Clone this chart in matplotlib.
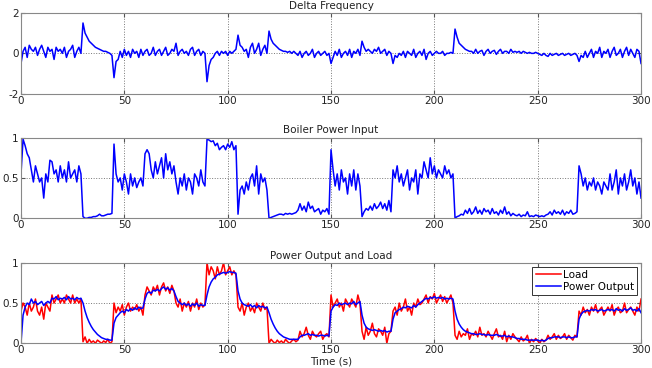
import numpy as np
import matplotlib
matplotlib.use("Agg")
import matplotlib.pyplot as plt

# time axis, one sample per second
t = np.arange(0, 301)

delta_freq = [
    -0.5, 0.1, 0.3, -0.2, 0.4, 0.2, 0.1, 0.3, -0.1, 0.2, 0.4, 0.1, -0.2, 0.3, 0.1,
    0.2, -0.3, 0.3, 0.1, 0.2, 0.0, 0.3, -0.2, 0.1, 0.2, 0.4, -0.2, 0.1, 0.3, 0.0,
    1.5, 1.0, 0.8, 0.6, 0.5, 0.4, 0.3, 0.25, 0.2, 0.15, 0.1, 0.1, 0.05, 0.0, -0.1,
    -1.2, -0.4, -0.3, 0.1, -0.2, 0.2, -0.1, 0.1, -0.2, 0.2, 0.0, 0.1, -0.2, 0.2, -0.1,
    0.1, 0.2, -0.1, 0.0, 0.3, -0.1, 0.1, 0.2, -0.1, 0.1, 0.3, -0.1, 0.0, 0.2, 0.1,
    0.5, -0.1, 0.1, 0.2, 0.0, 0.1, -0.1, 0.2, 0.3, -0.1, 0.1, 0.2, -0.1, 0.1, 0.0,
    -1.4, -0.6, -0.3, -0.2, 0.0, 0.1, -0.1, 0.1, 0.0, 0.1, -0.1, 0.1, 0.0, 0.1, 0.2,
    0.9, 0.4, 0.3, 0.1, 0.2, -0.2, 0.3, 0.5, 0.0, 0.2, 0.5, -0.1, 0.2, 0.4, 0.0,
    1.1, 0.7, 0.5, 0.4, 0.3, 0.2, 0.15, 0.1, 0.1, 0.05, 0.1, 0.0, 0.1, 0.0, -0.1,
    0.1, -0.2, 0.0, 0.1, -0.1, 0.0, 0.2, -0.2, 0.0, 0.1, -0.1, 0.0, 0.1, -0.1, 0.0,
    -0.5, -0.2, 0.1, -0.1, 0.2, -0.2, 0.0, 0.1, -0.1, 0.2, -0.2, 0.1, 0.0, 0.2, -0.1,
    0.6, 0.3, 0.1, 0.2, 0.1, 0.0, 0.2, 0.1, 0.3, 0.0, 0.1, 0.2, -0.1, 0.1, 0.0,
    -0.5, -0.1, -0.2, 0.0, -0.1, 0.1, -0.2, 0.1, 0.0, -0.1, 0.2, -0.2, 0.0, 0.1, -0.1,
    0.2, -0.3, 0.0, 0.1, -0.1, 0.0, 0.1, 0.0, 0.0, 0.1, -0.1, 0.0, 0.0, 0.05, 0.0,
    1.2, 0.8, 0.5, 0.4, 0.3, 0.2, 0.15, 0.1, 0.1, 0.0, 0.2, 0.0, 0.1, 0.15, -0.1,
    0.1, 0.2, 0.0, 0.1, 0.15, -0.05, 0.1, 0.2, 0.0, 0.1, 0.1, 0.0, 0.2, 0.05, 0.1,
    0.05, 0.1, 0.0, 0.1, 0.05, 0.0, 0.05, 0.0, 0.0, 0.05, 0.0, -0.05, -0.1, 0.0, -0.1,
    -0.15, 0.0, -0.1, -0.05, 0.0, -0.1, -0.05, 0.0, -0.1, -0.05, 0.0, -0.1, -0.05, 0.0, -0.1,
    -0.4, -0.1, -0.2, 0.1, -0.2, 0.0, 0.2, -0.2, 0.1, 0.0, 0.3, -0.2, 0.1, 0.0, 0.2,
    -0.2, 0.1, 0.3, -0.1, 0.0, 0.2, -0.2, 0.1, 0.3, -0.1, 0.2, 0.0, -0.2, 0.2, 0.1,
    -0.5,
]

boiler_input = [
    0.55, 0.98, 0.9, 0.8, 0.75, 0.6, 0.45, 0.65, 0.55, 0.45, 0.5, 0.25, 0.55, 0.45, 0.72,
    0.7, 0.55, 0.6, 0.45, 0.65, 0.5, 0.6, 0.45, 0.7, 0.5, 0.55, 0.6, 0.45, 0.65, 0.55,
    0.02, 0.0, 0.0, 0.01, 0.01, 0.02, 0.02, 0.03, 0.05, 0.03, 0.03, 0.04, 0.05, 0.05, 0.06,
    0.92, 0.55, 0.45, 0.5, 0.35, 0.55, 0.45, 0.3, 0.55, 0.4, 0.5, 0.38, 0.45, 0.5, 0.4,
    0.8, 0.85, 0.8, 0.6, 0.5, 0.7, 0.55, 0.65, 0.75, 0.5, 0.8, 0.6, 0.7, 0.55, 0.65,
    0.45, 0.3, 0.5, 0.4, 0.55, 0.35, 0.5, 0.45, 0.3, 0.55, 0.5, 0.4, 0.6, 0.45, 0.4,
    0.98, 0.97, 0.95, 0.96, 0.9, 0.93, 0.85, 0.88, 0.9, 0.85, 0.92, 0.88, 0.95, 0.85, 0.9,
    0.05, 0.35, 0.4, 0.3, 0.45, 0.35, 0.5, 0.55, 0.4, 0.65, 0.3, 0.55, 0.45, 0.5, 0.35,
    0.0, 0.01, 0.02, 0.03, 0.04, 0.05, 0.05, 0.04, 0.06, 0.05, 0.06, 0.05, 0.06, 0.07, 0.1,
    0.18, 0.1, 0.15, 0.08, 0.2, 0.12, 0.15, 0.08, 0.1, 0.12, 0.05, 0.1, 0.08, 0.12, 0.05,
    0.85, 0.6, 0.4, 0.55, 0.35, 0.6, 0.45, 0.5, 0.3, 0.55, 0.4, 0.6, 0.35, 0.55, 0.4,
    0.02, 0.08, 0.12, 0.1, 0.15, 0.1, 0.18, 0.12, 0.15, 0.2, 0.12, 0.18, 0.1, 0.22, 0.08,
    0.6, 0.5, 0.65, 0.45, 0.55, 0.4, 0.5, 0.6, 0.35, 0.5, 0.45, 0.6, 0.3, 0.55, 0.5,
    0.7, 0.6, 0.5, 0.75, 0.55, 0.65, 0.5, 0.6, 0.55, 0.5, 0.65, 0.55, 0.6, 0.5, 0.55,
    0.0, 0.02, 0.03, 0.05, 0.04, 0.1, 0.06, 0.12, 0.05, 0.08, 0.14, 0.06, 0.1, 0.05, 0.12,
    0.08, 0.1, 0.05, 0.12, 0.06, 0.08, 0.04, 0.1, 0.06, 0.14, 0.05, 0.08, 0.03, 0.06, 0.04,
    0.03, 0.05, 0.02, 0.04, 0.03, 0.08, 0.02, 0.03, 0.02, 0.04, 0.03, 0.02, 0.03, 0.02, 0.04,
    0.05, 0.08, 0.04, 0.1, 0.06, 0.08, 0.05, 0.1, 0.04, 0.08, 0.06, 0.1, 0.05, 0.06, 0.08,
    0.65, 0.55, 0.4, 0.5, 0.35, 0.45, 0.4, 0.5, 0.35, 0.45, 0.4, 0.3, 0.45, 0.4, 0.35,
    0.55, 0.35, 0.45, 0.6, 0.3, 0.5, 0.4, 0.55, 0.35, 0.45, 0.6, 0.4, 0.5, 0.3, 0.45,
    0.25,
]

load = [
    0.4, 0.5, 0.45, 0.35, 0.5, 0.4, 0.45, 0.55, 0.4, 0.35, 0.45, 0.3, 0.5, 0.45, 0.4,
    0.6, 0.5, 0.55, 0.6, 0.5, 0.55, 0.5, 0.6, 0.55, 0.5, 0.6, 0.5, 0.55, 0.5, 0.55,
    0.02, 0.08, 0.0, 0.05, 0.01, 0.03, 0.0, 0.04, 0.02, 0.0, 0.03, 0.01, 0.05, 0.0, 0.02,
    0.5, 0.38, 0.45, 0.4, 0.48, 0.35, 0.45, 0.5, 0.4, 0.45, 0.42, 0.48, 0.4, 0.45, 0.35,
    0.6, 0.7, 0.65, 0.6, 0.7, 0.65, 0.72, 0.6, 0.7, 0.75, 0.65, 0.7, 0.62, 0.72, 0.65,
    0.5, 0.45, 0.55, 0.4, 0.5, 0.45, 0.52, 0.4, 0.5, 0.45, 0.55, 0.42, 0.5, 0.45, 0.48,
    1.0, 0.85, 0.95, 0.9, 0.8, 0.95, 0.85, 0.9, 1.0, 0.85, 0.9, 0.95, 0.85, 0.9, 0.85,
    0.45, 0.4, 0.5, 0.35, 0.45, 0.5, 0.4, 0.45, 0.38, 0.5, 0.45, 0.4, 0.5, 0.42, 0.45,
    0.0, 0.05, 0.02, 0.0, 0.04, 0.01, 0.03, 0.0, 0.05, 0.02, 0.0, 0.03, 0.05, 0.02, 0.04,
    0.15, 0.08, 0.12, 0.2, 0.1, 0.05, 0.15, 0.1, 0.08, 0.12, 0.15, 0.05, 0.1, 0.12, 0.08,
    0.6, 0.45, 0.5, 0.55, 0.45, 0.5, 0.4, 0.55, 0.5, 0.45, 0.55, 0.5, 0.45, 0.6, 0.5,
    0.15, 0.05, 0.2, 0.1, 0.15, 0.25, 0.12, 0.08, 0.18, 0.15, 0.1, 0.2, 0.0, 0.12, 0.15,
    0.4, 0.45, 0.35, 0.5, 0.4, 0.45, 0.55, 0.4, 0.45, 0.35, 0.5, 0.45, 0.55, 0.48, 0.5,
    0.55, 0.6, 0.5, 0.58, 0.55, 0.62, 0.5, 0.55, 0.6, 0.52, 0.58, 0.5, 0.55, 0.6, 0.5,
    0.1, 0.05, 0.15, 0.08, 0.12, 0.1, 0.18, 0.05, 0.12, 0.1, 0.15, 0.08, 0.2, 0.1, 0.12,
    0.08, 0.15, 0.1, 0.05, 0.12, 0.18, 0.08, 0.1, 0.05, 0.15, 0.02, 0.1, 0.05, 0.12, 0.08,
    0.05, 0.02, 0.08, 0.03, 0.05, 0.1, 0.0, 0.05, 0.02, 0.06, 0.03, 0.0, 0.05, 0.02, 0.04,
    0.1, 0.05, 0.08, 0.12, 0.05, 0.1, 0.06, 0.08, 0.12, 0.05, 0.1, 0.07, 0.04, 0.1, 0.08,
    0.4, 0.35, 0.45, 0.38, 0.42, 0.35, 0.45, 0.4, 0.48, 0.38, 0.42, 0.45, 0.35, 0.4, 0.45,
    0.4, 0.48, 0.35, 0.42, 0.45, 0.38, 0.4, 0.5, 0.38, 0.42, 0.45, 0.4, 0.35, 0.45, 0.4,
    0.55,
]

power_output = [
    0.0, 0.35, 0.45, 0.5, 0.48, 0.55, 0.5, 0.52, 0.48, 0.5, 0.52, 0.47, 0.5, 0.52, 0.5,
    0.56, 0.55, 0.58, 0.54, 0.56, 0.55, 0.57, 0.54, 0.58, 0.55, 0.56, 0.54, 0.57, 0.55, 0.56,
    0.5, 0.4, 0.32, 0.26, 0.21, 0.17, 0.14, 0.11, 0.09, 0.07, 0.06, 0.05, 0.05, 0.04, 0.04,
    0.25, 0.32, 0.35, 0.38, 0.4, 0.38, 0.42, 0.4, 0.43, 0.41, 0.44, 0.42, 0.45, 0.43, 0.44,
    0.55, 0.62, 0.64, 0.62, 0.66, 0.65, 0.67, 0.65, 0.68, 0.7, 0.67, 0.69, 0.66, 0.68, 0.65,
    0.58, 0.52, 0.5, 0.48, 0.5, 0.47, 0.49, 0.46, 0.49, 0.47, 0.5, 0.46, 0.48, 0.47, 0.47,
    0.6, 0.7, 0.76, 0.8, 0.82, 0.85, 0.86, 0.87, 0.88, 0.87, 0.88, 0.89, 0.88, 0.88, 0.87,
    0.65, 0.55, 0.5, 0.48, 0.47, 0.46, 0.48, 0.45, 0.47, 0.44, 0.47, 0.45, 0.46, 0.44, 0.45,
    0.38, 0.3, 0.24, 0.19, 0.15, 0.12, 0.1, 0.08, 0.07, 0.06, 0.05, 0.05, 0.05, 0.05, 0.05,
    0.08, 0.1, 0.1, 0.11, 0.12, 0.1, 0.11, 0.1, 0.1, 0.09, 0.1, 0.1, 0.09, 0.1, 0.09,
    0.4, 0.45, 0.48, 0.47, 0.5, 0.48, 0.49, 0.5, 0.48, 0.5, 0.49, 0.52, 0.48, 0.5, 0.52,
    0.35, 0.25, 0.2, 0.18, 0.17, 0.16, 0.17, 0.16, 0.15, 0.16, 0.15, 0.16, 0.14, 0.15, 0.15,
    0.3, 0.38, 0.4, 0.42, 0.43, 0.45, 0.44, 0.46, 0.45, 0.44, 0.47, 0.45, 0.48, 0.5, 0.52,
    0.54, 0.56, 0.55, 0.57, 0.56, 0.58, 0.56, 0.57, 0.56, 0.57, 0.55, 0.56, 0.55, 0.56, 0.55,
    0.4, 0.3, 0.24, 0.2, 0.17, 0.15, 0.14, 0.13, 0.12, 0.12, 0.11, 0.11, 0.12, 0.11, 0.11,
    0.1, 0.11, 0.1, 0.1, 0.1, 0.11, 0.1, 0.09, 0.09, 0.1, 0.08, 0.09, 0.08, 0.08, 0.07,
    0.06, 0.06, 0.05, 0.05, 0.05, 0.04, 0.04, 0.04, 0.04, 0.04, 0.04, 0.03, 0.04, 0.03, 0.04,
    0.06, 0.07, 0.07, 0.08, 0.08, 0.08, 0.07, 0.08, 0.08, 0.07, 0.08, 0.07, 0.07, 0.08, 0.08,
    0.3, 0.36, 0.39, 0.4, 0.41, 0.4, 0.42, 0.41, 0.42, 0.4, 0.41, 0.42, 0.4, 0.41, 0.42,
    0.41, 0.42, 0.4, 0.43, 0.41, 0.42, 0.4, 0.43, 0.41, 0.42, 0.44, 0.41, 0.42, 0.4, 0.43,
    0.38,
]

xticks = [0, 50, 100, 150, 200, 250, 300]

fig = plt.figure(figsize=(6.52, 3.68), dpi=100)

def style(ax, yticks, ylabels, title):
    ax.set_xlim(0, 300)
    ax.set_ylim(yticks[0], yticks[-1])
    ax.set_xticks(xticks)
    ax.set_xticklabels([str(v) for v in xticks])
    ax.set_yticks(yticks)
    ax.set_yticklabels(ylabels)
    ax.tick_params(direction="in", labelsize=7.5, length=3, pad=1.5,
                   top=True, right=True, color="#555555", labelcolor="#222222")
    ax.grid(True, linestyle=":", color="#777777", linewidth=0.7)
    for s in ax.spines.values():
        s.set_color("#888888")
        s.set_linewidth(0.8)
    ax.set_title(title, fontsize=7.5, pad=3, color="#222222")

ax1 = fig.add_axes([0.0322, 0.745, 0.951, 0.220])
ax1.plot(t, delta_freq, color="blue", linewidth=1.1)
style(ax1, [-2, 0, 2], ["-2", "0", "2"], "Delta Frequency")

ax2 = fig.add_axes([0.0322, 0.407, 0.951, 0.219])
ax2.plot(t, boiler_input, color="blue", linewidth=1.1)
style(ax2, [0, 0.5, 1], ["0", "0.5", "1"], "Boiler Power Input")

ax3 = fig.add_axes([0.0322, 0.067, 0.951, 0.219])
ax3.plot(t, load, color="red", linewidth=1.1, label="Load")
ax3.plot(t, power_output, color="blue", linewidth=1.1, label="Power Output")
style(ax3, [0, 0.5, 1], ["0", "0.5", "1"], "Power Output and Load")
ax3.set_xlabel("Time (s)", fontsize=7.5, labelpad=1, color="#222222")
leg = ax3.legend(loc="upper right", fontsize=7.5, fancybox=False,
                 framealpha=1, borderpad=0.3, handlelength=2.4,
                 labelspacing=0.2, handletextpad=0.2, borderaxespad=0.4)
leg.get_frame().set_edgecolor("#333333")
leg.get_frame().set_linewidth(0.7)

fig.savefig("out.png", dpi=100)
